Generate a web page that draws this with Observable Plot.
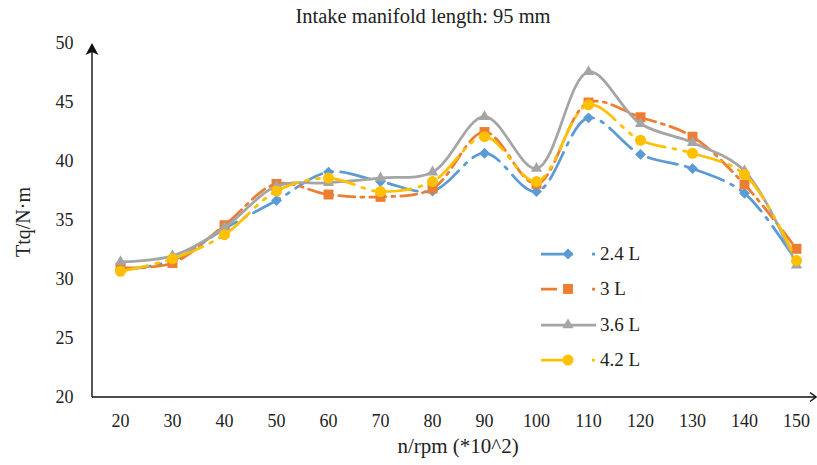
<!DOCTYPE html>
<html>
<head>
<meta charset="utf-8">
<script src="https://cdn.jsdelivr.net/npm/d3@7"></script>
<script src="https://cdn.jsdelivr.net/npm/@observablehq/plot@0.6"></script>
<style>
  body { margin: 0; background: #fff; }
  #chart { position: relative; width: 817px; height: 465px; font-family: "Liberation Serif", "Times New Roman", "DejaVu Serif", serif; color: #222; }
  #legend { position: absolute; left: 541px; top: 236px; font-size: 19px; }
  .item { display: flex; align-items: center; height: 35.5px; }
  .item svg { display: block; margin-right: 4px; }
</style>
</head>
<body>
<div id="chart"></div>
<script>
// Engine speed (x100 rpm)
const speeds = [20, 30, 40, 50, 60, 70, 80, 90, 100, 110, 120, 130, 140, 150];

// Torque (N·m) per displacement
const torque24 = [30.8, 31.6, 34.3, 36.7, 39.1, 38.3, 37.5, 40.7, 37.45, 43.7, 40.6, 39.4, 37.3, 31.5];
const torque30 = [31.0, 31.4, 34.6, 38.1, 37.2, 37.0, 37.7, 42.5, 38.1, 45.0, 43.75, 42.1, 38.05, 32.6];
const torque36 = [31.5, 32.0, 34.4, 37.9, 38.2, 38.6, 39.1, 43.8, 39.4, 47.6, 43.2, 41.6, 39.2, 31.2];
const torque42 = [30.7, 31.75, 33.8, 37.5, 38.6, 37.45, 38.3, 42.1, 38.3, 44.8, 41.8, 40.7, 38.9, 31.6];

const yTicks = [20, 25, 30, 35, 40, 45, 50];

const series = [
  { name: "2.4 L", values: torque24, color: "#5B9BD5", dash: "30,8,3,8", legendDash: "32,19,3,20", symbol: "diamond2", r: 4.9 },
  { name: "3 L",   values: torque30, color: "#ED7D31", dash: "16,6,3,6", legendDash: "16,35,3,20", symbol: "square", r: 5.6 },
  { name: "3.6 L", values: torque36, color: "#A5A5A5", dash: null,        legendDash: null,         symbol: "triangle", r: 4.2 },
  { name: "4.2 L", values: torque42, color: "#FFC000", dash: "28,8,3,8,3,8", legendDash: "32,19,3,20", symbol: "circle", r: 5.5 }
];

const rows = series.map(s => speeds.map((sp, i) => ({ speed: sp, torque: s.values[i], series: s.name })));

// Axis lines with arrowheads, drawn in frame space
function axisLines(index, scales, values, dim) {
  const g = d3.create("svg:g");
  const x0 = dim.marginLeft, y0 = dim.height - dim.marginBottom, yTop = dim.marginTop, xEnd = dim.width - 1;
  g.append("line").attr("x1", x0).attr("x2", x0).attr("y1", y0).attr("y2", yTop + 6)
    .attr("stroke", "#111").attr("stroke-width", 1.4);
  g.append("path").attr("d", `M${x0},${yTop} L${x0 - 6.5},${yTop + 12} L${x0},${yTop + 9} L${x0 + 6.5},${yTop + 12} Z`)
    .attr("fill", "#111");
  g.append("line").attr("x1", x0).attr("x2", xEnd).attr("y1", y0).attr("y2", y0)
    .attr("stroke", "#111").attr("stroke-width", 1.4);
  g.append("path").attr("d", `M${xEnd - 6},${y0 - 4.5} L${xEnd},${y0} L${xEnd - 6},${y0 + 4.5}`)
    .attr("fill", "none").attr("stroke", "#111").attr("stroke-width", 1.4);
  return g.node();
}

const marks = [
  Plot.axisY({ ticks: yTicks, tickSize: 0, tickPadding: 19, fill: "#222", fontSize: 18 }),
  Plot.axisX({ tickSize: 0, tickPadding: 17, fill: "#222", fontSize: 18 }),
  axisLines,
  Plot.text(["Intake manifold length: 95 mm"], { frameAnchor: "top", lineAnchor: "middle", dx: -31, dy: -27, fontSize: 20.5, fill: "#222" }),
  Plot.text(["Ttq/N·m"], { frameAnchor: "left", textAnchor: "middle", lineAnchor: "middle", dx: -69, dy: 1.5, rotate: -90, fontSize: 20, fill: "#222" }),
  Plot.text(["n/rpm (*10^2)"], { frameAnchor: "bottom", lineAnchor: "middle", dx: 4, dy: 49, fontSize: 21, fill: "#222" })
];

series.forEach((s, k) => {
  marks.push(Plot.line(rows[k], {
    x: "speed", y: "torque", stroke: s.color, strokeWidth: 2.75,
    curve: "catmull-rom", strokeDasharray: s.dash || undefined
  }));
  marks.push(Plot.dot(rows[k], {
    x: "speed", y: "torque", symbol: s.symbol, r: s.r, fill: s.color, stroke: "none"
  }));
});

const chart = Plot.plot({
  width: 817,
  height: 465,
  marginTop: 43,
  marginLeft: 92,
  marginRight: 2,
  marginBottom: 68,
  style: { fontFamily: "'Liberation Serif', 'Times New Roman', serif", fontSize: "18px", background: "#fff", overflow: "visible" },
  x: { type: "point", domain: speeds, range: [118, 798], padding: 0, label: null },
  y: { domain: [20, 50], label: null },
  marks
});

const root = document.getElementById("chart");
root.appendChild(chart);

// Legend
const legend = document.createElement("div");
legend.id = "legend";
series.forEach(s => {
  const item = document.createElement("div");
  item.className = "item";
  const sw = d3.create("svg").attr("width", 55).attr("height", 16);
  const ln = sw.append("line").attr("x1", 0).attr("x2", 55).attr("y1", 8).attr("y2", 8)
    .attr("stroke", s.color).attr("stroke-width", 2.75);
  if (s.legendDash) ln.attr("stroke-dasharray", s.legendDash);
  const sym = { diamond2: d3.symbolDiamond2, square: d3.symbolSquare, triangle: d3.symbolTriangle, circle: d3.symbolCircle }[s.symbol];
  sw.append("path").attr("transform", "translate(27,8)")
    .attr("d", d3.symbol(sym, s.r * s.r * Math.PI)()).attr("fill", s.color);
  item.appendChild(sw.node());
  const label = document.createElement("span");
  label.textContent = s.name;
  item.appendChild(label);
  legend.appendChild(item);
});
root.appendChild(legend);
</script>
</body>
</html>
